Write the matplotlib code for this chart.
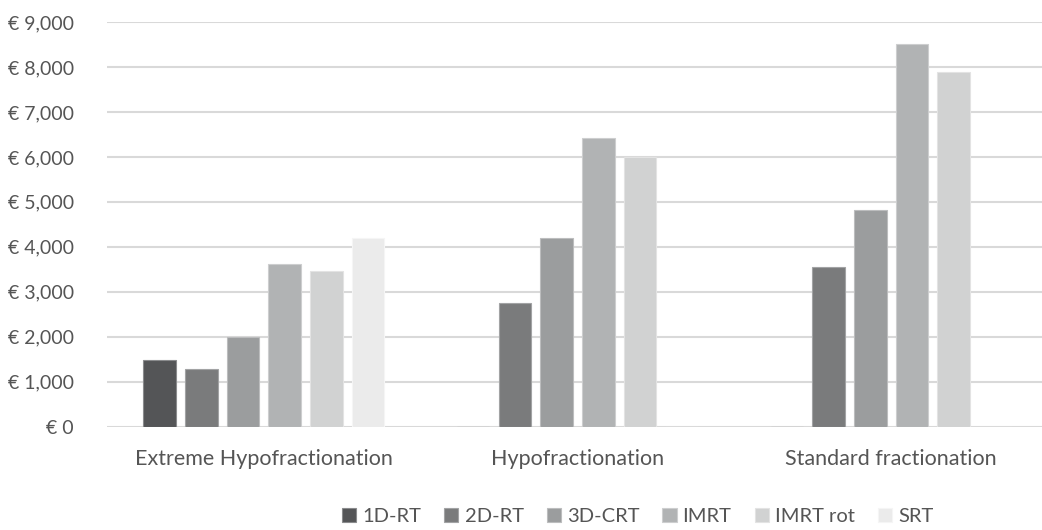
import matplotlib.pyplot as plt
import numpy as np
from matplotlib.ticker import FuncFormatter

plt.rcParams['font.family'] = ['Lato', 'DejaVu Sans']

categories = ["Extreme Hypofractionation", "Hypofractionation", "Standard fractionation"]
techniques = ["1D-RT", "2D-RT", "3D-CRT", "IMRT", "IMRT rot", "SRT"]

# cost per technique, one value per category (0 = not given)
rt_1d = [1480, 0, 0]
rt_2d = [1280, 2740, 3560]
crt_3d = [2000, 4190, 4820]
imrt = [3610, 6430, 8520]
imrt_rot = [3470, 5990, 7880]
srt = [4190, 0, 0]

series = [rt_1d, rt_2d, crt_3d, imrt, imrt_rot, srt]
colors = ["#545557", "#7a7b7c", "#9b9d9e", "#b1b3b4", "#d1d2d2", "#ebebeb"]
edges = ["#8a8b8d", "#a2a3a4", "#bcbdbe", "#cdcecf", "#e3e3e3", "#f5f5f5"]

text_color = "#555555"

fig = plt.figure(figsize=(10.42, 5.3), dpi=100)
ax = fig.add_axes([0.1027, 0.1949, 0.903, 0.7636])

x = np.arange(len(categories))
slot = 0.133
w = 0.104
for i, (vals, c, ec) in enumerate(zip(series, colors, edges)):
    offs = (i - 2.5) * slot
    ax.bar(x + offs, vals, width=w, color=c, edgecolor=ec, linewidth=0.8,
           label=techniques[i], zorder=3)

ax.set_xlim(-0.5, 2.5)
ax.set_ylim(0, 9000)
ax.set_yticks(np.arange(0, 9001, 1000))
ax.yaxis.set_major_formatter(FuncFormatter(lambda v, p: "€ {:,.0f}".format(v)))
ax.grid(axis="y", color="#d9d9d9", linewidth=1.5, zorder=0)
for s in ax.spines.values():
    s.set_visible(False)
ax.set_xticks(x)
ax.set_xticklabels(categories)
ax.tick_params(axis="y", length=0, pad=24, labelsize=14, labelcolor=text_color)
ax.tick_params(axis="x", length=0, pad=16, labelsize=15.5, labelcolor=text_color)

fig.legend(loc="center", bbox_to_anchor=(0.612, 0.025), ncol=6, frameon=False,
           fontsize=14.5, labelcolor=text_color, handlelength=0.7, handleheight=0.7,
           handletextpad=0.3, columnspacing=1.15)

fig.savefig("out.png", dpi=100)
